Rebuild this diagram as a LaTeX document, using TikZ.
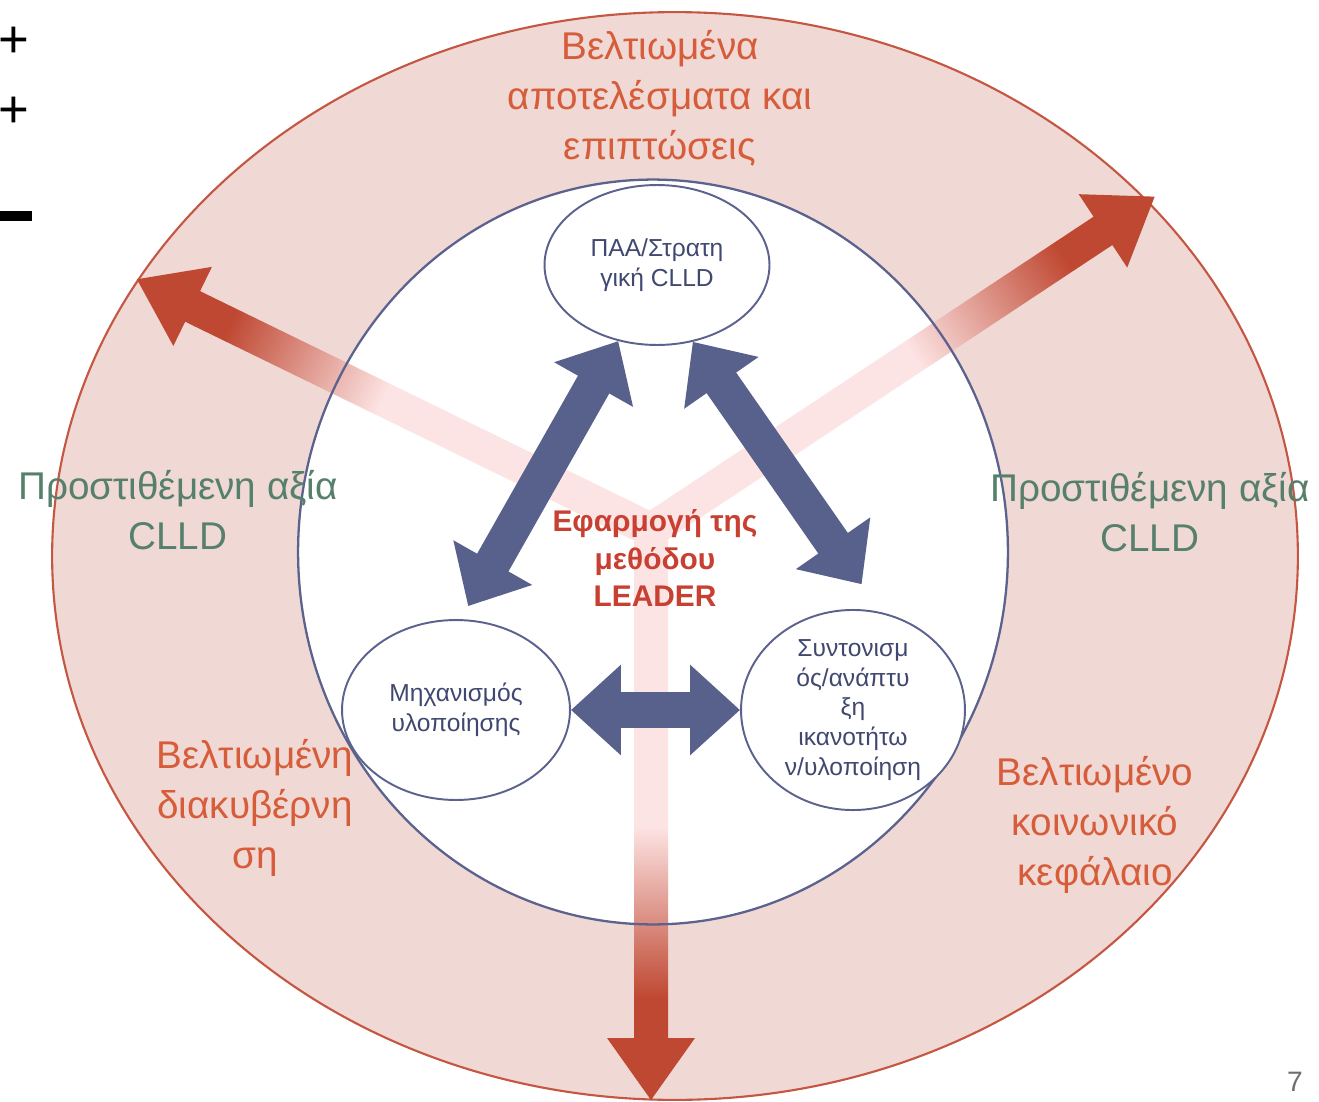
\documentclass[tikz,border=0pt]{standalone}
\usepackage{fontspec}
\setmainfont{Liberation Sans}
\usepackage{tikz}
\usetikzlibrary{shapes.geometric,arrows.meta,positioning}
\definecolor{ringpink}{RGB}{240,216,213}
\definecolor{ringred}{RGB}{196,86,66}
\definecolor{coreblue}{RGB}{92,98,142}
\definecolor{arrowblue}{RGB}{88,96,140}
\definecolor{arrowred}{RGB}{191,72,50}
\definecolor{palepink}{RGB}{253,228,228}
\definecolor{resorange}{RGB}{214,92,58}
\definecolor{valgreen}{RGB}{86,128,108}
\definecolor{leadred}{RGB}{200,64,50}
\definecolor{smalltext}{RGB}{64,72,112}
\pgfdeclarehorizontalshading{redfade}{100bp}{color(0bp)=(palepink); color(25bp)=(palepink); color(51bp)=(palepink); color(66bp)=(arrowred); color(100bp)=(arrowred)}

\begin{document}
\begin{tikzpicture}[
  x=0.02cm, y=-0.02cm,
  ring/.style={
    ellipse,
    inner sep=0pt,
    fill=ringpink,
    draw=ringred,
    line width=1.2pt
    },
  parts/.style={
    ellipse,
    draw=coreblue,
    fill=white,
    line width=1.1pt,
    inner sep=0pt,
    align=center,
    text=smalltext,
    font=\fontsize{14}{17}\selectfont
    },
  outtext/.style={
    align=center,
    text=resorange,
    font=\fontsize{22}{28.5}\selectfont
    },
  leadtext/.style={
    align=center,
    text=leadred,
    font=\bfseries\fontsize{17}{21.5}\selectfont
    },
  twoway/.style={
    draw=arrowblue,
    line width=0.72cm,
    {Triangle[width=1.75cm,length=1cm]}-{Triangle[width=1.75cm,length=1cm]}
    }
]
\useasboundingbox (0,0) rectangle (1319,1102);

\node[ring, minimum width=24.92cm, minimum height=21.76cm] (ring) at (675,556) {};
\node[ellipse, fill=white, inner sep=0pt, minimum width=14.2cm, minimum height=14.9cm] (core) at (653,552) {};

\coordinate (hub) at (651,530);
\foreach \ang/\len in {33.5/604, 154/572, 270/570}
{
  \begin{scope}[transform canvas={shift={(hub)}, rotate=\ang}]
    \shade[shading=redfade] (0,-17) -- (\len-62,-17) -- (\len-62,-44) -- (\len,0)
      -- (\len-62,44) -- (\len-62,17) -- (0,17) -- cycle;
  \end{scope}
}

\node[ellipse, draw=coreblue, line width=1.3pt, inner sep=0pt, minimum width=14.2cm, minimum height=14.9cm] (coreline) at (core.center) {};

\node[parts, minimum width=4.5cm, minimum height=3.2cm] (plan) at (657,265) {ΠΑΑ/Στρατη\\γική CLLD};
\node[parts, minimum width=4.56cm, minimum height=3.6cm] (mech) at (456,710) {Μηχανισμός\\υλοποίησης};
\node[parts, minimum width=4.48cm, minimum height=3.64cm] (coord) at (853,710) {Συντονισμ\\ός/ανάπτυ\\ξη\\ικανοτήτω\\ν/υλοποίηση};

\draw[twoway, shorten >=0.3cm] (plan.243) -- (mech.87);
\draw[twoway, shorten >=0.68cm] (plan.295) -- (coord.74);
\draw[twoway] (mech.east) -- (coord.west);

\node[leadtext] (method) at (655,558) {Εφαρμογή της\\μεθόδου\\LEADER};

\node[outtext] (results) at (660,98) {Βελτιωμένα\\αποτελέσματα και\\επιπτώσεις};
\node[outtext, text=valgreen] (valueL) at (178,510) {Προστιθέμενη αξία\\CLLD};
\node[outtext, text=valgreen] (valueR) at (1150,512) {Προστιθέμενη αξία\\CLLD};
\node[outtext] (govern) at (255,808) {Βελτιωμένη\\διακυβέρνη\\ση};
\node[outtext] (social) at (1095,825) {Βελτιωμένο\\κοινωνικό\\κεφάλαιο};

\node[font=\fontsize{30}{30}\selectfont] (plusA) at (14,42) {+};
\node[font=\fontsize{30}{30}\selectfont] (plusB) at (14,112) {+};
\node[fill=black, inner sep=0pt, minimum width=0.64cm, minimum height=0.2cm] (minus) at (16,216) {};
\node[text={rgb,255:red,110;green,110;blue,110}, font=\fontsize{16}{16}\selectfont] (pagenum) at (1295,1082) {7};
\end{tikzpicture}
\end{document}
